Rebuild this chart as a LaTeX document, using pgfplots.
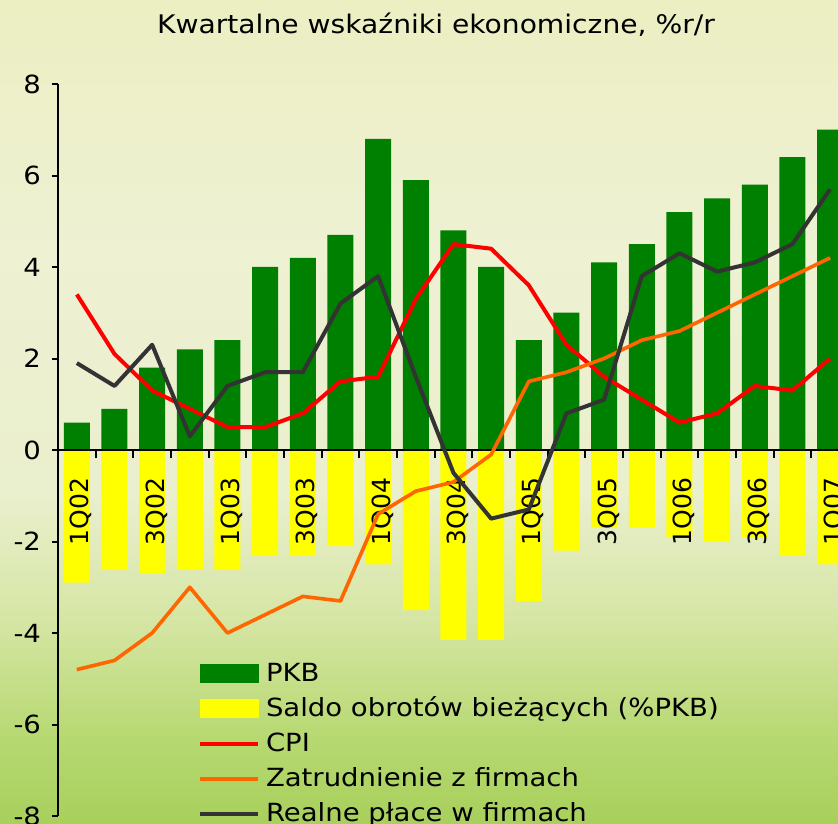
\documentclass[border=0pt]{standalone}
\usepackage{fontspec}
\setmainfont[FakeStretch=1.1]{DejaVu Sans}
\newfontfamily\plainfont{DejaVu Sans}
\usepackage{pgfplots}
\pgfplotsset{compat=1.18}
\usepackage{pgfplotstable}

\definecolor{pkbgreen}{RGB}{0,128,0}
\definecolor{saldoyellow}{RGB}{255,255,0}
\definecolor{cpired}{RGB}{255,0,0}
\definecolor{zatorange}{RGB}{255,102,0}
\definecolor{placegray}{RGB}{51,51,51}

\pgfdeclareverticalshading{bgshade}{100bp}{%
  color(0bp)=(rgb,255:red,168;green,208;blue,92);
  color(25bp)=(rgb,255:red,168;green,208;blue,92);
  color(30bp)=(rgb,255:red,182;green,216;blue,112);
  color(37.5bp)=(rgb,255:red,214;green,230;blue,165);
  color(45bp)=(rgb,255:red,234;green,239;blue,205);
  color(60bp)=(rgb,255:red,238;green,241;blue,210);
  color(75bp)=(rgb,255:red,236;green,239;blue,194);
  color(100bp)=(rgb,255:red,236;green,239;blue,194)}

\pgfplotstableread{
x pkb saldo cpi zat place
0 0.6 -2.9 3.4 -4.8 1.9
1 0.9 -2.6 2.1 -4.6 1.4
2 1.8 -2.7 1.3 -4.0 2.3
3 2.2 -2.6 0.9 -3.0 0.3
4 2.4 -2.6 0.5 -4.0 1.4
5 4.0 -2.3 0.5 -3.6 1.7
6 4.2 -2.3 0.8 -3.2 1.7
7 4.7 -2.1 1.5 -3.3 3.2
8 6.8 -2.5 1.6 -1.4 3.8
9 5.9 -3.5 3.3 -0.9 1.6
10 4.8 -4.15 4.5 -0.7 -0.5
11 4.0 -4.15 4.4 -0.1 -1.5
12 2.4 -3.3 3.6 1.5 -1.3
13 3.0 -2.2 2.3 1.7 0.8
14 4.1 -1.7 1.6 2.0 1.1
15 4.5 -1.7 1.1 2.4 3.8
16 5.2 -1.9 0.6 2.6 4.3
17 5.5 -2.0 0.8 3.0 3.9
18 5.8 -1.9 1.4 3.4 4.1
19 6.4 -2.3 1.3 3.8 4.5
20 7.0 -2.5 2.0 4.2 5.7
}\datatable

\pgfplotsset{
  mygeom/.style={
    at={(29pt,3.5pt)}, anchor=south west,
    scale only axis, width=390pt, height=366pt,
    xmin=-0.5, xmax=20.21, ymin=-8, ymax=8,
  },
}

\begin{document}
\begin{tikzpicture}
\shade[shading=bgshade] (0pt,0pt) rectangle (419pt,411.5pt);
\node[font=\fontsize{12.8}{15}\selectfont] at (218pt,399pt) {Kwartalne wskaźniki ekonomiczne, \%r/r};
% bars (behind tick labels)
\begin{axis}[mygeom, hide axis]
\addplot[ybar, bar shift=0pt, bar width=13pt, fill=pkbgreen, draw=none]
  table[x=x, y=pkb] {\datatable};
\addplot[ybar, bar shift=0pt, bar width=13pt, fill=saldoyellow, draw=none]
  table[x=x, y=saldo] {\datatable};
\end{axis}
% axis, tick labels, lines, legend
\begin{axis}[mygeom,
  axis x line=middle, axis y line=left,
  axis line style={-, line width=1pt, black},
  ytick={-8,-6,...,8},
  xtick={0,2,...,20},
  xticklabels={1Q02,3Q02,1Q03,3Q03,1Q04,3Q04,1Q05,3Q05,1Q06,3Q06,1Q07},
  minor xtick={0.5,1.5,...,19.5},
  tick align=outside,
  major tick length=3pt, minor tick length=4pt,
  tick style={black, line width=1pt},
  major x tick style={draw=none},
  /pgf/number format/assume math mode=true,
  yticklabel style={font=\fontsize{12.5}{15}\selectfont, xshift=-2pt},
  xticklabel style={font=\plainfont\fontsize{12.5}{15}\selectfont, xshift=2.2pt, rotate=90, anchor=east},
  xticklabel shift=7.5pt,
  legend cell align=left,
  legend style={at={(0.1795,0.2077)}, anchor=north west, draw=none, fill=none,
    inner sep=0pt, outer sep=0pt, row sep=5.5pt, column sep=3pt,
    nodes={inner sep=0pt, outer sep=0pt, text height=9pt, text depth=3pt},
    font=\fontsize{12.5}{15}\selectfont},
]
\addlegendimage{legend image code/.code={\fill[pkbgreen] (0pt,-3.3pt) rectangle (29pt,5.7pt);}}
\addlegendentry{PKB}
\addlegendimage{legend image code/.code={\fill[saldoyellow] (0pt,-3.3pt) rectangle (29pt,5.7pt);}}
\addlegendentry{Saldo obrotów bieżących (\%PKB)}
\addplot[cpired, line width=2pt, line join=round, mark=none,
  legend image code/.code={\draw[cpired, line width=2pt] (0pt,1.2pt) -- (29pt,1.2pt);}]
  table[x=x, y=cpi] {\datatable};
\addlegendentry{CPI}
\addplot[zatorange, line width=1.8pt, line join=round, mark=none,
  legend image code/.code={\draw[zatorange, line width=2pt] (0pt,1.2pt) -- (29pt,1.2pt);}]
  table[x=x, y=zat] {\datatable};
\addlegendentry{Zatrudnienie z firmach}
\addplot[placegray, line width=2pt, line join=round, mark=none,
  legend image code/.code={\draw[placegray, line width=2pt] (0pt,1.2pt) -- (29pt,1.2pt);}]
  table[x=x, y=place] {\datatable};
\addlegendentry{Realne płace w firmach}
\end{axis}
\pgfresetboundingbox
\useasboundingbox (0pt,0pt) rectangle (419pt,411.5pt);
\end{tikzpicture}
\end{document}
